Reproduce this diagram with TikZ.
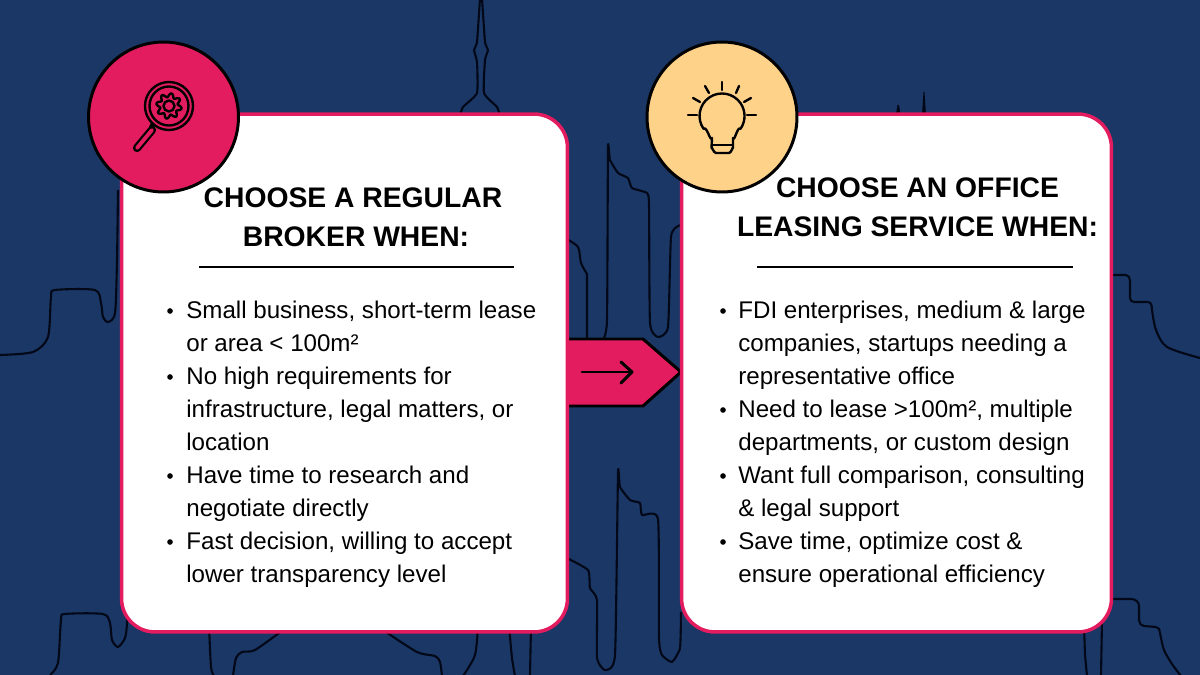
\documentclass[tikz,border=0pt]{standalone}
\usepackage{fontspec}
\setmainfont{Liberation Sans}
\definecolor{navybg}{HTML}{1A3766}
\definecolor{rosepink}{HTML}{E31C5F}
\definecolor{sandlight}{HTML}{FFD28A}
\definecolor{inkline}{HTML}{020817}
\tikzset{
	skyline/.style={draw=inkline,line width=1.2pt,line join=round},
	card/.style={draw=rosepink,line width=2pt,fill=white,rounded corners=19pt,minimum height=10.36cm,inner sep=0pt},
	badge/.style={circle,draw=black,line width=1.7pt,minimum size=3cm,inner sep=0pt},
	headtext/.style={font=\bfseries\fontsize{16.1}{19}\selectfont,text=black,inner sep=0pt},
	bodytext/.style={anchor=base west,font=\fontsize{13.73}{16}\selectfont,text=black,inner sep=0pt},
	bulletdot/.style={circle,fill=black,minimum size=3.2pt,inner sep=0pt},
	iconline/.style={draw=black,line width=1.35pt,line cap=round,line join=round},
	headrule/.style={draw=black,line width=1.5pt},
}
\begin{document}
\begin{tikzpicture}[x=0.02cm,y=-0.02cm]
	\useasboundingbox[fill=navybg] (0,0) rectangle (1200,675);
	% skyline behind the cards
	\draw[skyline] plot[smooth,tension=0.45] coordinates {(0,355) (33,352) (48,337) (51,297) (55,290) (95,290) (101,303) (103,317) (108,322) (115,313) (117,260) (118,190)};
	\draw[skyline] plot[smooth,tension=0.45] coordinates {(50,675) (58,663) (61,620) (65,614) (103,614) (110,623) (112,640) (118,647) (125,638) (127,623) (127,600)};
	\draw[skyline] plot[smooth,tension=0.45] coordinates {(209,625) (211,667) (214,676)};
	\draw[skyline] plot[smooth,tension=0.45] coordinates {(233,676) (236,658) (242,652) (255,650) (283,630)};
	\draw[skyline] plot[smooth,tension=0.45] coordinates {(383,630) (417,652) (435,656) (440,662) (442,676)};
	\draw[skyline] plot[smooth,tension=0.45] coordinates {(478,625) (475,655) (463,676)};
	\draw[skyline] plot[smooth,tension=0.45] coordinates {(509,625) (512,658) (515,676)};
	\draw[skyline] (531,625) -- (530,676);
	\draw[skyline] plot[smooth,tension=0.3] coordinates {(460,116) (463,107) (477,93) (477,62) (474,50) (477,42) (480,-2)};
	\draw[skyline] plot[smooth,tension=0.3] coordinates {(500,116) (497,107) (484,93) (485,60) (488,50) (485,42) (482,-2)};
	\draw[skyline] plot[smooth,tension=0.45] coordinates {(565,238) (578,247) (581,263) (587,274)} -- (587,340);
	\draw[skyline] plot[smooth,tension=0.3] coordinates {(603,340) (607,320) (608,148) (610,160) (618,173) (628,178) (632,188) (647,193) (649,205) (650,323) (658,337) (668,327) (671,237) (678,226) (684,225)};
	\draw[skyline] plot[smooth,tension=0.3] coordinates {(565,557) (588,570) (590,588) (597,600) (597,658) (605,670) (615,655) (618,473) (620,487) (630,500) (640,503) (642,515) (658,519) (659,638) (662,655) (672,662) (680,648) (681,612)};
	\draw[skyline] (1110,275) -- (1126,275) to[out=0,in=90] (1130,281) -- (1130,298) to[out=-90,in=180] (1134,302) -- (1148,302) to[out=0,in=90] (1152,310) plot[smooth,tension=0.5] coordinates {(1152,310) (1156,330) (1167,347) (1200,358)};
	\draw[skyline] (1110,599) -- (1131,599) to[out=0,in=90] (1139,606) -- (1139,620) to[out=-90,in=180] (1144,626) -- (1156,627) to[out=0,in=90] (1160,633) plot[smooth,tension=0.5] coordinates {(1160,633) (1164,650) (1172,664) (1181,676)};
	\draw[skyline] (1084,625) -- (1085,655) -- (1087,676);
	\draw[skyline] (1102,620) -- (1101,676);
	\fill[inkline] (896,114) -- (897.5,105) -- (899,105) -- (900.5,114) -- cycle;
	\fill[inkline] (922,114) -- (923.5,92) -- (924.5,92) -- (926,114) -- cycle;
	% arrow between the cards
	\fill[rosepink] (560,339) -- (643,339) -- (681,372) -- (643,406) -- (560,406) -- cycle;
	\draw[headrule,line width=1.7pt,line join=miter] (560,339) -- (643,339) -- (681,372) -- (643,406) -- (560,406);
	\draw[iconline,line width=1.7pt] (582,372) -- (632,372);
	\draw[iconline,line width=1.7pt] (621,362) -- (632,372) -- (621,383);
	% cards
	\node[card,minimum width=8.92cm] (regular) at (344.5,373) {};
	\node[card,minimum width=8.6cm] (leasing) at (896.5,373) {};
	\node[badge,fill=rosepink] (search) at (163.5,117) {};
	\node[badge,fill=sandlight] (idea) at (722,117) {};
	% magnifier icon
	\draw[iconline] (169,106) circle (24);
	\draw[iconline] (169,106) circle (19.5);
	\draw[iconline] (169,106) circle (5.5);
	\begin{scope}[shift={(169,106)}]
		\draw[iconline] plot[domain=0:360,samples=97,smooth] (\x:{10.8+2*sin(8*\x)});
	\end{scope}
	\draw[iconline,line width=2.6pt,line cap=butt] (153,124) -- (151,128);
	\draw[black,line width=4.7pt,line cap=round] (137,148) -- (152,130);
	\draw[rosepink,line width=2.2pt,line cap=round] (137,148) -- (152,130);
	% bulb icon
	\draw[iconline] (712,138) to[out=-110,in=50] (703.6,128.9) arc (145:395:22.5) to[out=130,in=-70] (733,138) -- (733,148) to[out=90,in=0] (729,153) -- (716,153) to[out=180,in=90] (711.5,148) -- (712,138) -- cycle;
	\draw[iconline] (712,145) -- (733,145);
	\draw[iconline] (722,82) -- (722,90);
	\draw[iconline] (705,86) -- (709,93);
	\draw[iconline] (739,86) -- (736,93);
	\draw[iconline] (693,98) -- (700,102);
	\draw[iconline] (751,98) -- (744,102);
	\draw[iconline] (688,115) -- (697,115);
	\draw[iconline] (747,115) -- (756,115);
	% headings
	\node[headtext] (regularA) at (353,197.5) {CHOOSE A REGULAR};
	\node[headtext] (regularB) at (356,236.5) {BROKER WHEN:};
	\node[headtext] (leasingA) at (917.5,187.5) {CHOOSE AN OFFICE};
	\node[headtext] (leasingB) at (917.5,226.5) {LEASING SERVICE WHEN:};
	\draw[headrule] (199,267) -- (514,267);
	\draw[headrule] (757,267) -- (1073,267);
	% left list
	\node[bulletdot] (regdotA) at (170,311) {};
	\node[bulletdot] (regdotB) at (170,377) {};
	\node[bulletdot] (regdotC) at (170,476) {};
	\node[bulletdot] (regdotD) at (170,542) {};
	\node[bodytext] (regA) at (186,318.6) {Small business, short-term lease};
	\node[bodytext] (regB) at (186,351.6) {or area < 100m²};
	\node[bodytext] (regC) at (186,384.6) {No high requirements for};
	\node[bodytext] (regD) at (186,417.6) {infrastructure, legal matters, or};
	\node[bodytext] (regE) at (186,450.6) {location};
	\node[bodytext] (regF) at (186,483.6) {Have time to research and};
	\node[bodytext] (regG) at (186,516.6) {negotiate directly};
	\node[bodytext] (regH) at (186,549.6) {Fast decision, willing to accept};
	\node[bodytext] (regI) at (186,582.6) {lower transparency level};
	% right list
	\node[bulletdot] (leadotA) at (723,311) {};
	\node[bulletdot] (leadotB) at (723,410) {};
	\node[bulletdot] (leadotC) at (723,476) {};
	\node[bulletdot] (leadotD) at (723,542) {};
	\node[bodytext] (leaA) at (738,318.6) {FDI enterprises, medium \& large};
	\node[bodytext] (leaB) at (738,351.6) {companies, startups needing a};
	\node[bodytext] (leaC) at (738,384.6) {representative office};
	\node[bodytext] (leaD) at (738,417.6) {Need to lease >100m², multiple};
	\node[bodytext] (leaE) at (738,450.6) {departments, or custom design};
	\node[bodytext] (leaF) at (738,483.6) {Want full comparison, consulting};
	\node[bodytext] (leaG) at (738,516.6) {\& legal support};
	\node[bodytext] (leaH) at (738,549.6) {Save time, optimize cost \&};
	\node[bodytext] (leaI) at (738,582.6) {ensure operational efficiency};
\end{tikzpicture}
\end{document}
